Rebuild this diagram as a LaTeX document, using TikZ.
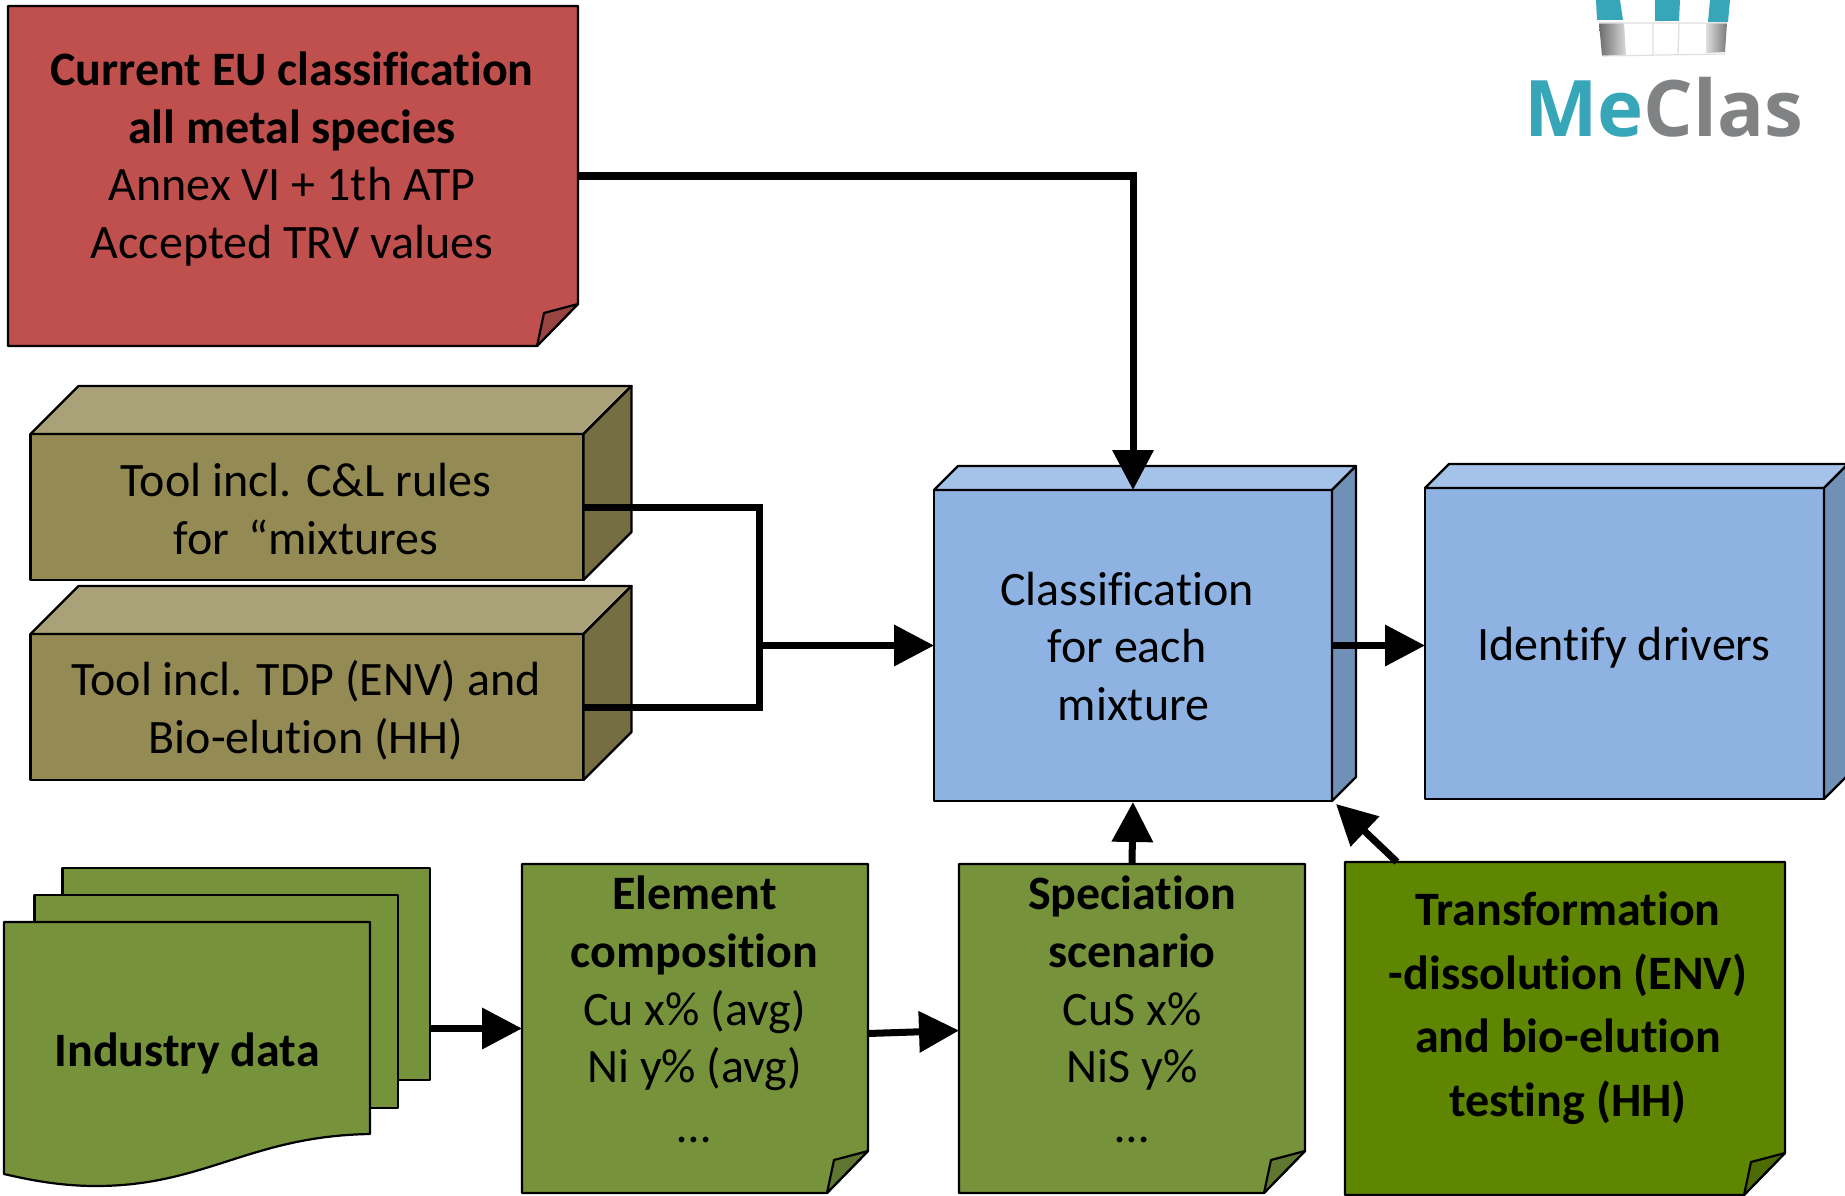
\documentclass[tikz,border=0pt]{standalone}
\usepackage{fontspec}
\setmainfont{Carlito}[Ligatures=NoCommon]
\newfontfamily\logofont{Open Sans}
\usetikzlibrary{arrows.meta}
\definecolor{redbox}{HTML}{C0504D}
\definecolor{redfold}{HTML}{9A4442}
\definecolor{tanfront}{HTML}{948A54}
\definecolor{tantop}{HTML}{A9A177}
\definecolor{tanside}{HTML}{766E43}
\definecolor{bluefront}{HTML}{8EB2E2}
\definecolor{bluetop}{HTML}{A5C2E8}
\definecolor{blueside}{HTML}{7190B6}
\definecolor{greenbox}{HTML}{76933C}
\definecolor{greenfold}{HTML}{5F7630}
\definecolor{darkgreen}{HTML}{5F8600}
\definecolor{darkfold}{HTML}{4C6B00}
\definecolor{logoteal}{HTML}{37A6B8}
\definecolor{logogray}{HTML}{808284}
\tikzset{
  outline/.style={draw=black,line width=2.2pt,line join=round},
  framebox/.style={rectangle,inner sep=0pt,outer sep=0pt},
  txt/.style={align=center,inner sep=0pt,text=black,font=\fontsize{48}{57.6}\selectfont},
  txtb/.style={txt,font=\fontsize{48}{57.6}\selectfont\bfseries},
  flow/.style={line width=7pt,draw=black,-{Triangle[length=40pt,width=40pt]}},
  flowplain/.style={line width=7pt,draw=black,line join=miter},
}
% name, fill, fold fill
\newcommand{\notepaper}[3]{%
  \draw[outline,fill=#2] (#1.north west) -- (#1.north east) -- ([yshift=42pt]#1.south east)
    -- ([xshift=-41pt]#1.south east) -- (#1.south west) -- cycle;
  \draw[outline,fill=#3] ([yshift=42pt]#1.south east) -- ([shift={(-34pt,33pt)}]#1.south east)
    -- ([xshift=-41pt]#1.south east) -- cycle;
}
% name, depth, top fill, side fill
\newcommand{\cubefaces}[4]{%
  \draw[outline,fill=#3] (#1.north west) -- ([shift={(#2pt,#2pt)}]#1.north west)
    -- ([shift={(#2pt,#2pt)}]#1.north east) -- (#1.north east) -- cycle;
  \draw[outline,fill=#4] (#1.north east) -- ([shift={(#2pt,#2pt)}]#1.north east)
    -- ([shift={(#2pt,#2pt)}]#1.south east) -- (#1.south east) -- cycle;
}
\begin{document}
\begin{tikzpicture}[x=1pt,y=-1pt]
\useasboundingbox (0,0) rectangle (1845,1196);
\clip (0,0) rectangle (1845,1196);
\fill[white] (0,0) rectangle (1845,1196);

% logo
\fill[logoteal] (1596,0) -- (1620,0) -- (1623,20) -- (1597,20) -- cycle;
\fill[logoteal] (1655,0) -- (1680,0) -- (1679,21) -- (1655,21) -- cycle;
\fill[logoteal] (1710,0) -- (1730,0) -- (1728,22) -- (1708,22) -- cycle;
\shade[left color=gray!85!black,right color=gray!30] (1599,23) -- (1624,23) -- (1626,55) -- (1602,56) -- cycle;
\shade[left color=gray!25,right color=gray!95!black] (1706,23) -- (1727,23) -- (1725,52) -- (1706,53) -- cycle;
\draw[gray!25,line width=1.2pt] (1599,23) -- (1727,23) (1602,56) -- (1725,54)
  (1653,23) -- (1653,55) (1679,23) -- (1678,55);
\node[anchor=base west,inner sep=0pt] (logo) at (1524,137)
  {\logofont\bfseries\fontsize{78}{78}\selectfont\textcolor{logoteal}{Me}\textcolor{logogray}{Clas}};

% red note
\node[framebox,minimum width=570pt,minimum height=340pt] (red) at (293,176) {};
\notepaper{red}{redbox}{redfold}
\node[txt] (redtxt) at (292,159) {\textbf{Current EU classification}\\\textbf{all metal species}\\Annex VI + 1th ATP\\Accepted TRV values};

% tan cubes
\node[framebox,outline,fill=tanfront,minimum width=553pt,minimum height=146pt] (tool1) at (307,507) {};
\cubefaces{tool1}{48}{tantop}{tanside}
\node[txt] (tool1txt) at (306,509) {Tool incl. C\&L rules\\for \,“mixtures};
\node[framebox,outline,fill=tanfront,minimum width=553pt,minimum height=146pt] (tool2) at (307,707) {};
\cubefaces{tool2}{48}{tantop}{tanside}
\node[txt] (tool2txt) at (306,710.5) {Tool incl. TDP (ENV) and\\Bio-elution (HH)};

% blue cubes
\node[framebox,outline,fill=bluefront,minimum width=398pt,minimum height=311pt] (center) at (1133,645.5) {};
\cubefaces{center}{24}{bluetop}{blueside}
\node[txt] (centertxt) at (1127,646.5) {Classification\\for each\\\hspace*{13pt}mixture};
\node[framebox,outline,fill=bluefront,minimum width=399pt,minimum height=311pt] (drivers) at (1624.5,643.5) {};
\cubefaces{drivers}{24}{bluetop}{blueside}
\node[txt] (driverstxt) at (1624,648) {Identify drivers};

% industry data stack
\node[framebox,outline,fill=greenbox,minimum width=367.5pt,minimum height=212pt] (back) at (246.25,974) {};
\node[framebox,outline,fill=greenbox,minimum width=363.5pt,minimum height=213pt] (mid) at (216.25,1001.5) {};
\node[framebox,minimum width=366pt,minimum height=264pt] (front) at (187,1054) {};
\draw[outline,fill=greenbox] (front.north west) -- (front.north east) -- (370,1134)
  .. controls (250,1136) and (205,1186) .. (96,1186)
  .. controls (60,1186) and (30,1180) .. (4,1174) -- cycle;
\node[txtb] (frontxt) at (187,1053) {Industry data};

% green notes
\node[framebox,minimum width=346pt,minimum height=329pt] (element) at (695,1028.5) {};
\notepaper{element}{greenbox}{greenfold}
\node[txt] (elementtxt) at (694.5,1009.5) {\textbf{Element}\\\textbf{composition}\\Cu x\% (avg)\\Ni y\% (avg)\\[2pt]…};
\node[framebox,minimum width=346pt,minimum height=329pt] (spec) at (1132,1028.5) {};
\notepaper{spec}{greenbox}{greenfold}
\node[txt] (spectxt) at (1132,1009.5) {\textbf{Speciation}\\\textbf{scenario}\\CuS x\%\\NiS y\%\\[2pt]…};
\node[framebox,minimum width=440pt,minimum height=333pt] (trans) at (1565,1028.5) {};
\notepaper{trans}{darkgreen}{darkfold}
\node[txtb,font=\fontsize{48}{63.5}\selectfont\bfseries] (transtxt) at (1568,1008) {Transformation\\-dissolution (ENV)\\and bio-elution\\testing (HH)};

% connectors
\coordinate (junction) at (759,645.5);
\draw[flow] (red.east) -| (center.north);
\draw[flowplain] (tool1.east) -| (junction) |- (tool2.east);
\draw[flow] (junction) -- (center.west);
\draw[flow] (center.east) -- (drivers.west |- center.east);
\draw[flow] (back.east |- element.west) -- (element.west);
\draw[flow] ([yshift=-5pt]element.east) -- ([yshift=-2pt]spec.west);
\draw[flow] (spec.north) -- ([yshift=-1pt]center.south);
\draw[flow] ([xshift=52pt]trans.north west) -- ([shift={(4pt,-3pt)}]center.south east);
\end{tikzpicture}
\end{document}
